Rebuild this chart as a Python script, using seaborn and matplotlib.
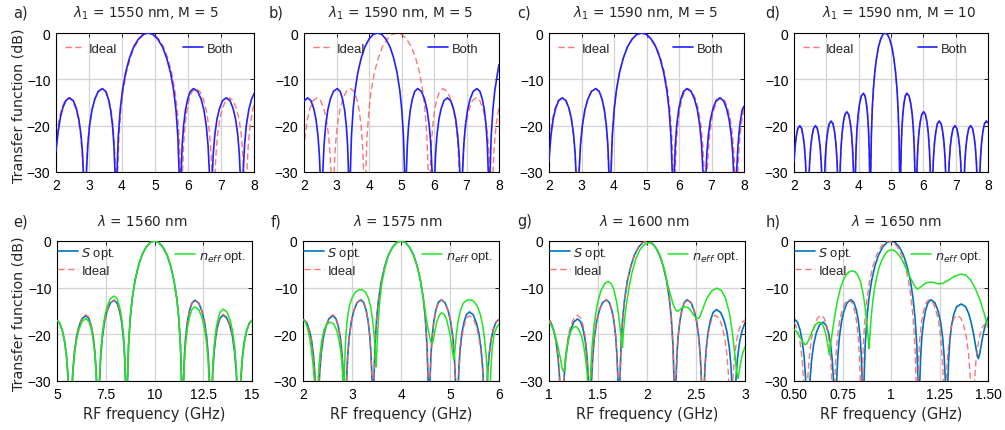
import matplotlib
matplotlib.use("Agg")
import matplotlib.pyplot as plt
import seaborn as sns

# ---------------------------------------------------------------------------
# Transfer functions (dB) versus RF frequency (GHz)
# ---------------------------------------------------------------------------

# a) lambda1 = 1550 nm, M = 5
a_both_x = [2.0, 2.062, 2.128, 2.203, 2.297, 2.41, 2.523, 2.617, 2.692, 2.758, 2.805, 2.842, 2.88,
            2.922, 2.965, 3.017, 3.091, 3.175, 3.280, 3.406, 3.506, 3.589, 3.655, 3.713, 3.754, 3.787, 3.82,
            3.849, 3.888, 3.946, 4.014, 4.111, 4.227, 4.353, 4.499, 4.644, 4.79,
            4.936, 5.081, 5.227, 5.353, 5.469, 5.566, 5.634, 5.692, 5.731, 5.76,
            5.793, 5.825, 5.866, 5.924, 5.989, 6.071, 6.169, 6.294, 6.398, 6.482, 6.554, 6.606, 6.648, 6.69,
            6.728, 6.765, 6.812, 6.878, 6.953, 7.047, 7.16, 7.273, 7.367, 7.442, 7.508, 7.555, 7.592, 7.63,
            7.672, 7.715, 7.767, 7.841, 7.925, 8.0]
a_both_db = [-25.5, -21.5, -18.4, -16.2, -14.6, -14, -14.6, -16.3, -18.6, -22, -26.1, -32, -40,
             -30, -24.1, -20, -16.6, -14.3, -12.6, -12, -12.6, -14.3, -16.6, -20, -24.1, -30, -40,
             -30, -22.3, -16.5, -12.4, -8.5, -5.4, -3.0, -1.3, -0.3, 0,
             -0.3, -1.3, -3.0, -5.4, -8.5, -12.4, -16.5, -22.3, -30, -40,
             -30, -24.1, -20, -16.6, -14.3, -12.6, -12, -12.6, -14.3, -16.6, -20, -24.1, -30, -40,
             -32, -26.1, -22, -18.6, -16.3, -14.6, -14, -14.6, -16.3, -18.6, -22, -26.1, -32, -40,
             -30, -24.1, -20, -16.6, -14.3, -13.1]
a_ideal_x = [2.0, 2.026, 2.094, 2.172, 2.269, 2.385, 2.501, 2.598, 2.676, 2.744, 2.792, 2.831, 2.87,
             2.914, 2.957, 3.012, 3.087, 3.175, 3.283, 3.413, 3.516, 3.601, 3.669, 3.729, 3.772, 3.806, 3.84,
             3.869, 3.909, 3.967, 4.036, 4.134, 4.252, 4.379, 4.526, 4.673, 4.82,
             4.967, 5.114, 5.261, 5.388, 5.506, 5.604, 5.673, 5.731, 5.771, 5.80,
             5.834, 5.868, 5.911, 5.971, 6.039, 6.124, 6.227, 6.357, 6.465, 6.553, 6.628, 6.683, 6.726, 6.77,
             6.809, 6.848, 6.896, 6.964, 7.042, 7.139, 7.255, 7.371, 7.468, 7.546, 7.614, 7.662, 7.701, 7.74,
             7.784, 7.827, 7.882, 7.957, 8.0]
a_ideal_db = [-24.2, -22, -18.6, -16.3, -14.6, -14, -14.6, -16.3, -18.6, -22, -26.1, -32, -40,
              -30, -24.1, -20, -16.6, -14.3, -12.6, -12, -12.6, -14.3, -16.6, -20, -24.1, -30, -40,
              -30, -22.3, -16.5, -12.4, -8.5, -5.4, -3.0, -1.3, -0.3, 0,
              -0.3, -1.3, -3.0, -5.4, -8.5, -12.4, -16.5, -22.3, -30, -40,
              -30, -24.1, -20, -16.6, -14.3, -12.6, -12, -12.6, -14.3, -16.6, -20, -24.1, -30, -40,
              -32, -26.1, -22, -18.6, -16.3, -14.6, -14, -14.6, -16.3, -18.6, -22, -26.1, -32, -40,
              -30, -24.1, -20, -16.6, -15.4]

# ideal response for lambda1 = 1590 nm, M = 5 (panels b and c)
ideal_1590_x = [2.0, 2.036, 2.104, 2.182, 2.279, 2.395, 2.511, 2.608, 2.686, 2.754, 2.802, 2.841, 2.88,
                2.925, 2.969, 3.025, 3.102, 3.191, 3.302, 3.434, 3.539, 3.626, 3.696, 3.757, 3.801, 3.835, 3.87,
                3.90, 3.939, 3.999, 4.068, 4.167, 4.286, 4.414, 4.563, 4.711, 4.86,
                5.009, 5.157, 5.306, 5.434, 5.553, 5.652, 5.721, 5.781, 5.82, 5.85,
                5.884, 5.918, 5.961, 6.021, 6.089, 6.174, 6.277, 6.407, 6.515, 6.603, 6.678, 6.733, 6.776, 6.82,
                6.858, 6.896, 6.944, 7.01, 7.086, 7.181, 7.295, 7.409, 7.504, 7.58, 7.647, 7.694, 7.732, 7.77,
                7.814, 7.857, 7.911, 8.0]
ideal_1590_db = [-25.1, -22, -18.6, -16.3, -14.6, -14, -14.6, -16.3, -18.6, -22, -26.1, -32, -40,
                 -30, -24.1, -20, -16.6, -14.3, -12.6, -12, -12.6, -14.3, -16.6, -20, -24.1, -30, -40,
                 -30, -22.3, -16.5, -12.4, -8.5, -5.4, -3.0, -1.3, -0.3, 0,
                 -0.3, -1.3, -3.0, -5.4, -8.5, -12.4, -16.5, -22.3, -30, -40,
                 -30, -24.1, -20, -16.6, -14.3, -12.6, -12, -12.6, -14.3, -16.6, -20, -24.1, -30, -40,
                 -32, -26.1, -22, -18.6, -16.3, -14.6, -14, -14.6, -16.3, -18.6, -22, -26.1, -32, -40,
                 -30, -24.1, -20, -15.8]

# b) lambda1 = 1590 nm, M = 5, uncorrected
b_both_x = [2.0, 2.11, 2.213, 2.299, 2.368, 2.428, 2.471, 2.506, 2.54,
            2.579, 2.617, 2.666, 2.733, 2.81, 2.906, 3.022, 3.113, 3.188, 3.249, 3.302, 3.34, 3.37, 3.40,
            3.426, 3.46, 3.512, 3.572, 3.658, 3.761, 3.873, 4.002, 4.131, 4.26,
            4.389, 4.518, 4.647, 4.759, 4.862, 4.948, 5.008, 5.06, 5.094, 5.12,
            5.15, 5.18, 5.218, 5.271, 5.332, 5.407, 5.498, 5.614, 5.71, 5.787, 5.854, 5.903, 5.941, 5.98,
            6.014, 6.049, 6.092, 6.152, 6.221, 6.307, 6.41, 6.513, 6.599, 6.668, 6.728, 6.771, 6.806, 6.84,
            6.879, 6.917, 6.966, 7.033, 7.11, 7.206, 7.322, 7.413, 7.488, 7.549, 7.602, 7.64, 7.67, 7.70,
            7.726, 7.76, 7.812, 7.872, 7.958, 8.0]
b_both_db = [-14.7, -14, -14.6, -16.3, -18.6, -22, -26.1, -32, -40,
             -30, -24.1, -20, -16.6, -14.3, -12.6, -12, -12.6, -14.3, -16.6, -20, -24.1, -30, -40,
             -30, -22.3, -16.5, -12.4, -8.5, -5.4, -3.0, -1.3, -0.3, 0,
             -0.3, -1.3, -3.0, -5.4, -8.5, -12.4, -16.5, -22.3, -30, -40,
             -30, -24.1, -20, -16.6, -14.3, -12.6, -12, -12.6, -14.3, -16.6, -20, -24.1, -30, -40,
             -32, -26.1, -22, -18.6, -16.3, -14.6, -14, -14.6, -16.3, -18.6, -22, -26.1, -32, -40,
             -30, -24.1, -20, -16.6, -14.3, -12.6, -12, -12.6, -14.3, -16.6, -20, -24.1, -30, -40,
             -30, -22.3, -16.5, -12.4, -8.5, -6.8]

# c) lambda1 = 1590 nm, M = 5, corrected
c_both_x = [2.0, 2.015, 2.062, 2.128, 2.203, 2.297, 2.41, 2.523, 2.617, 2.692, 2.758, 2.805, 2.842, 2.88,
            2.925, 2.97, 3.026, 3.104, 3.194, 3.306, 3.44, 3.546, 3.634, 3.704, 3.766, 3.81, 3.845, 3.88,
            3.909, 3.948, 4.006, 4.074, 4.171, 4.287, 4.413, 4.559, 4.704, 4.85,
            4.996, 5.141, 5.287, 5.413, 5.529, 5.626, 5.694, 5.752, 5.791, 5.82,
            5.854, 5.887, 5.929, 5.989, 6.056, 6.141, 6.242, 6.371, 6.479, 6.565, 6.64, 6.694, 6.737, 6.78,
            6.818, 6.856, 6.904, 6.97, 7.046, 7.141, 7.255, 7.369, 7.464, 7.54, 7.607, 7.654, 7.692, 7.73,
            7.773, 7.816, 7.869, 7.943, 8.0]
c_both_db = [-27.7, -26.1, -22, -18.6, -16.3, -14.6, -14, -14.6, -16.3, -18.6, -22, -26.1, -32, -40,
             -30, -24.1, -20, -16.6, -14.3, -12.6, -12, -12.6, -14.3, -16.6, -20, -24.1, -30, -40,
             -30, -22.3, -16.5, -12.4, -8.5, -5.4, -3.0, -1.3, -0.3, 0,
             -0.3, -1.3, -3.0, -5.4, -8.5, -12.4, -16.5, -22.3, -30, -40,
             -30, -24.1, -20, -16.6, -14.3, -12.6, -12, -12.6, -14.3, -16.6, -20, -24.1, -30, -40,
             -32, -26.1, -22, -18.6, -16.3, -14.6, -14, -14.6, -16.3, -18.6, -22, -26.1, -32, -40,
             -30, -24.1, -20, -16.6, -15.8]

# d) lambda1 = 1590 nm, M = 10 (ideal and corrected coincide)
d_x = [2.0, 2.032, 2.071, 2.119, 2.178, 2.236, 2.284, 2.323, 2.357, 2.381, 2.401, 2.42,
       2.439, 2.459, 2.483, 2.517, 2.556, 2.604, 2.663, 2.721, 2.769, 2.808, 2.842, 2.866, 2.886, 2.905,
       2.924, 2.944, 2.968, 3.002, 3.041, 3.089, 3.148, 3.206, 3.254, 3.293, 3.327, 3.351, 3.371, 3.39,
       3.409, 3.429, 3.453, 3.487, 3.526, 3.574, 3.633, 3.691, 3.739, 3.778, 3.812, 3.836, 3.856, 3.875,
       3.897, 3.919, 3.946, 3.984, 4.027, 4.082, 4.147, 4.198, 4.241, 4.275, 4.305, 4.326, 4.343, 4.36,
       4.374, 4.392, 4.42, 4.452, 4.498, 4.553, 4.613, 4.682, 4.751, 4.82,
       4.889, 4.958, 5.027, 5.087, 5.142, 5.188, 5.22, 5.248, 5.266, 5.28,
       5.297, 5.314, 5.335, 5.365, 5.399, 5.442, 5.493, 5.558, 5.613, 5.656, 5.694, 5.721, 5.743, 5.765,
       5.784, 5.804, 5.828, 5.862, 5.901, 5.949, 6.008, 6.066, 6.114, 6.153, 6.187, 6.211, 6.231, 6.25,
       6.269, 6.289, 6.313, 6.347, 6.386, 6.434, 6.493, 6.551, 6.599, 6.638, 6.672, 6.696, 6.716, 6.735,
       6.754, 6.774, 6.798, 6.832, 6.871, 6.919, 6.978, 7.036, 7.084, 7.123, 7.157, 7.181, 7.201, 7.22,
       7.239, 7.259, 7.283, 7.317, 7.356, 7.404, 7.463, 7.521, 7.569, 7.608, 7.642, 7.666, 7.686, 7.705,
       7.724, 7.744, 7.768, 7.802, 7.841, 7.889, 7.948, 8.0]
d_db = [-27.8, -24.6, -22.3, -20.6, -20, -20.6, -22.3, -24.6, -28, -32.1, -38, -40,
        -38, -32.1, -28, -24.6, -22.3, -20.6, -20, -20.6, -22.3, -24.6, -28, -32.1, -38, -40,
        -37, -31.1, -27, -23.6, -21.3, -19.6, -19, -19.6, -21.3, -23.6, -27, -31.1, -37, -40,
        -35, -29.1, -25, -21.6, -19.3, -17.6, -17, -17.6, -19.3, -21.6, -25, -29.1, -35, -40,
        -31, -25.1, -21, -17.6, -15.3, -13.6, -13, -13.6, -15.3, -17.6, -21, -25.1, -31, -40,
        -30, -22.3, -16.5, -12.4, -8.5, -5.4, -3.0, -1.3, -0.3, 0,
        -0.3, -1.3, -3.0, -5.4, -8.5, -12.4, -16.5, -22.3, -30, -40,
        -31, -25.1, -21, -17.6, -15.3, -13.6, -13, -13.6, -15.3, -17.6, -21, -25.1, -31, -40,
        -35, -29.1, -25, -21.6, -19.3, -17.6, -17, -17.6, -19.3, -21.6, -25, -29.1, -35, -40,
        -37, -31.1, -27, -23.6, -21.3, -19.6, -19, -19.6, -21.3, -23.6, -27, -31.1, -37, -40,
        -38, -32.1, -28, -24.6, -22.3, -20.6, -20, -20.6, -22.3, -24.6, -28, -32.1, -38, -40,
        -38, -32.1, -28, -24.6, -22.3, -20.6, -20, -20.6, -22.3, -24.6, -28, -32.1, -38, -40,
        -37, -31.1, -27, -23.6, -21.3, -19.6, -19, -19.4]

# e) lambda = 1560 nm
e_x = [5.0, 5.137, 5.28, 5.394, 5.494, 5.566, 5.623, 5.68,
       5.744, 5.809, 5.889, 6.0, 6.129, 6.289, 6.481, 6.632, 6.758, 6.858, 6.947, 7.01, 7.06, 7.11,
       7.176, 7.241, 7.323, 7.437, 7.568, 7.732, 7.928, 8.082, 8.211, 8.313, 8.404, 8.468, 8.519, 8.57,
       8.613, 8.67, 8.756, 8.856, 8.999, 9.171, 9.356, 9.571, 9.785, 10.0,
       10.215, 10.429, 10.644, 10.829, 11.001, 11.144, 11.244, 11.33, 11.387, 11.43,
       11.481, 11.532, 11.596, 11.687, 11.789, 11.918, 12.072, 12.268, 12.432, 12.563, 12.677, 12.759, 12.824, 12.89,
       12.94, 12.99, 13.053, 13.142, 13.242, 13.368, 13.519, 13.711, 13.871, 14.0, 14.111, 14.191, 14.256, 14.32,
       14.377, 14.434, 14.506, 14.606, 14.72, 14.863, 15.0]
e_sopt_db = [-17, -17.6, -19.3, -21.6, -25, -29.1, -35, -40,
             -34, -28.1, -24, -20.6, -18.3, -16.6, -16, -16.6, -18.3, -20.6, -24, -28.1, -34, -40,
             -30.7, -24.8, -20.7, -17.3, -15, -13.3, -12.7, -13.3, -15, -17.3, -20.7, -24.8, -30.7, -40,
             -30, -22.3, -16.5, -12.4, -8.5, -5.4, -3.0, -1.3, -0.3, 0,
             -0.3, -1.3, -3.0, -5.4, -8.5, -12.4, -16.5, -22.3, -30, -40,
             -30.7, -24.8, -20.7, -17.3, -15, -13.3, -12.7, -13.3, -15, -17.3, -20.7, -24.8, -30.7, -40,
             -33.9, -28, -23.9, -20.5, -18.2, -16.5, -15.9, -16.5, -18.2, -20.5, -23.9, -28, -33.9, -40,
             -35, -29.1, -25, -21.6, -19.3, -17.6, -17]
e_ideal_db = [-17, -17.6, -19.3, -21.6, -25, -29.1, -35, -40,
              -33.8, -27.9, -23.8, -20.4, -18.1, -16.4, -15.8, -16.4, -18.1, -20.4, -23.8, -27.9, -33.8, -40,
              -30.7, -24.8, -20.7, -17.3, -15, -13.3, -12.7, -13.3, -15, -17.3, -20.7, -24.8, -30.7, -40,
              -30, -22.3, -16.5, -12.4, -8.5, -5.4, -3.0, -1.3, -0.3, 0,
              -0.3, -1.3, -3.0, -5.4, -8.5, -12.4, -16.5, -22.3, -30, -40,
              -30.7, -24.8, -20.7, -17.3, -15, -13.3, -12.7, -13.3, -15, -17.3, -20.7, -24.8, -30.7, -40,
              -33.7, -27.8, -23.7, -20.3, -18.0, -16.3, -15.7, -16.3, -18.0, -20.3, -23.7, -27.8, -33.7, -40,
              -35, -29.1, -25, -21.6, -19.3, -17.6, -17]
e_neff_db = [-17, -17.6, -19.3, -21.6, -25, -29.1, -35, -40,
             -34.6, -28.7, -24.6, -21.2, -18.9, -17.2, -16.6, -17.2, -18.9, -21.2, -24.6, -28.7, -34.6, -40,
             -29.8, -23.9, -19.8, -16.4, -14.1, -12.4, -11.8, -12.4, -14.1, -16.4, -19.8, -23.9, -29.8, -40,
             -30, -22.3, -16.5, -12.4, -8.5, -5.4, -3.0, -1.3, -0.3, 0,
             -0.3, -1.3, -3.0, -5.4, -8.5, -12.4, -16.5, -22.3, -30, -40,
             -32.1, -26.2, -22.1, -18.7, -16.4, -14.7, -14.1, -14.7, -16.4, -18.7, -22.1, -26.2, -32.1, -40,
             -32.6, -26.7, -22.6, -19.2, -16.9, -15.2, -14.6, -15.2, -16.9, -19.2, -22.6, -26.7, -32.6, -40,
             -35, -29.1, -25, -21.6, -19.3, -17.6, -17]

# f) lambda = 1575 nm
f_x = [2.0, 2.073, 2.13, 2.176, 2.216, 2.244, 2.267, 2.29,
       2.316, 2.341, 2.373, 2.418, 2.469, 2.533, 2.609, 2.67, 2.72, 2.76, 2.795, 2.82, 2.84, 2.86,
       2.886, 2.911, 2.943, 2.988, 3.039, 3.103, 3.179, 3.24, 3.29, 3.33, 3.365, 3.39, 3.41, 3.43,
       3.447, 3.47, 3.504, 3.544, 3.601, 3.669, 3.743, 3.829, 3.914, 4.0,
       4.086, 4.171, 4.257, 4.331, 4.399, 4.456, 4.496, 4.53, 4.553, 4.57,
       4.59, 4.61, 4.635, 4.67, 4.71, 4.76, 4.821, 4.897, 4.961, 5.012, 5.057, 5.089, 5.114, 5.14,
       5.16, 5.181, 5.206, 5.242, 5.283, 5.334, 5.395, 5.473, 5.538, 5.59, 5.635, 5.668, 5.694, 5.72,
       5.743, 5.766, 5.794, 5.834, 5.88, 5.937, 6.0]
f_sopt_db = [-16.8, -17.4, -19.1, -21.4, -24.8, -28.9, -34.8, -40,
             -34, -28.1, -24, -20.6, -18.3, -16.6, -16, -16.6, -18.3, -20.6, -24, -28.1, -34, -40,
             -30.6, -24.7, -20.6, -17.2, -14.9, -13.2, -12.6, -13.2, -14.9, -17.2, -20.6, -24.7, -30.6, -40,
             -30, -22.3, -16.5, -12.4, -8.5, -5.4, -3.0, -1.3, -0.3, 0,
             -0.3, -1.3, -3.0, -5.4, -8.5, -12.4, -16.5, -22.3, -30, -40,
             -30.6, -24.7, -20.6, -17.2, -14.9, -13.2, -12.6, -13.2, -14.9, -17.2, -20.6, -24.7, -30.6, -40,
             -33.2, -27.3, -23.2, -19.8, -17.5, -15.8, -15.2, -15.8, -17.5, -19.8, -23.2, -27.3, -33.2, -40,
             -34.8, -28.9, -24.8, -21.4, -19.1, -17.4, -16.8]
f_ideal_db = [-16.8, -17.4, -19.1, -21.4, -24.8, -28.9, -34.8, -40,
              -33.8, -27.9, -23.8, -20.4, -18.1, -16.4, -15.8, -16.4, -18.1, -20.4, -23.8, -27.9, -33.8, -40,
              -30.6, -24.7, -20.6, -17.2, -14.9, -13.2, -12.6, -13.2, -14.9, -17.2, -20.6, -24.7, -30.6, -40,
              -30, -22.3, -16.5, -12.4, -8.5, -5.4, -3.0, -1.3, -0.3, 0,
              -0.3, -1.3, -3.0, -5.4, -8.5, -12.4, -16.5, -22.3, -30, -40,
              -30.6, -24.7, -20.6, -17.2, -14.9, -13.2, -12.6, -13.2, -14.9, -17.2, -20.6, -24.7, -30.6, -40,
              -34, -28.1, -24, -20.6, -18.3, -16.6, -16, -16.6, -18.3, -20.6, -24, -28.1, -34, -40,
              -34.8, -28.9, -24.8, -21.4, -19.1, -17.4, -16.8]
f_neff_x = [2.0, 2.05, 2.09, 2.13, 2.17, 2.2, 2.225, 2.25, 2.27,
            2.29, 2.31, 2.34, 2.38, 2.43, 2.49, 2.56, 2.63, 2.69, 2.74, 2.775, 2.80, 2.815, 2.83,
            2.845, 2.86, 2.88, 2.91, 2.95, 3.0, 3.06, 3.13, 3.2, 3.27, 3.33, 3.38, 3.42, 3.455, 3.475, 3.49,
            3.505, 3.52, 3.54, 3.57, 3.61, 3.67, 3.74, 3.82, 3.91, 4.0,
            4.09, 4.18, 4.26, 4.33, 4.39, 4.44, 4.49, 4.54, 4.58, 4.61, 4.64,
            4.67, 4.70, 4.74, 4.79, 4.83, 4.88, 4.93, 4.98, 5.02, 5.055, 5.08,
            5.10, 5.13, 5.17, 5.22, 5.28, 5.36, 5.46, 5.55, 5.62, 5.67, 5.71, 5.74, 5.765, 5.785, 5.80,
            5.815, 5.835, 5.86, 5.90, 5.95, 6.0]
f_neff_db = [-16.8, -17.4, -18.6, -20.5, -23.2, -26, -29, -33, -40,
             -34, -29.5, -25, -21.5, -19, -17.8, -17.4, -17.8, -19.2, -21.5, -24, -27, -30, -40,
             -28, -23.5, -19.5, -16.2, -13.8, -12.2, -11.1, -10.5, -10.4, -10.9, -12.1, -14, -16.8, -20.5, -24, -27,
             -24, -20.5, -16.5, -12.5, -9, -5.8, -3.2, -1.4, -0.3, 0,
             -0.3, -1.4, -3.2, -5.5, -8.2, -11.2, -14.8, -18.2, -20.4, -21.6, -22,
             -20.6, -18.8, -17, -15.8, -15.4, -15.7, -16.8, -19, -21.5, -24, -25.5,
             -23.5, -20, -16.9, -14.6, -13.2, -12.6, -12.7, -13.8, -15.8, -18.3, -21.5, -25, -29, -34, -40,
             -33, -27, -23, -20, -18.6, -17.8]

# g) lambda = 1600 nm
g_sopt_x = [1.0, 1.02, 1.049, 1.072, 1.092, 1.107, 1.118, 1.13,
            1.143, 1.156, 1.172, 1.195, 1.221, 1.254, 1.292, 1.323, 1.349, 1.369, 1.387, 1.40, 1.41, 1.42,
            1.433, 1.447, 1.463, 1.486, 1.513, 1.546, 1.585, 1.616, 1.642, 1.663, 1.681, 1.694, 1.705, 1.715,
            1.724, 1.735, 1.752, 1.772, 1.80, 1.835, 1.872, 1.914, 1.957, 2.0,
            2.043, 2.086, 2.128, 2.165, 2.20, 2.228, 2.248, 2.265, 2.276, 2.285,
            2.295, 2.305, 2.317, 2.335, 2.355, 2.38, 2.41, 2.449, 2.481, 2.506, 2.528, 2.544, 2.557, 2.57,
            2.581, 2.592, 2.606, 2.625, 2.647, 2.675, 2.709, 2.751, 2.786, 2.814, 2.839, 2.857, 2.871, 2.885,
            2.897, 2.909, 2.924, 2.945, 2.969, 3.0]
g_sopt_db = [-16.9, -17.5, -19.2, -21.5, -24.9, -29, -34.9, -40,
             -34.7, -28.8, -24.7, -21.3, -19, -17.3, -16.7, -17.3, -19, -21.3, -24.7, -28.8, -34.7, -40,
             -30.6, -24.7, -20.6, -17.2, -14.9, -13.2, -12.6, -13.2, -14.9, -17.2, -20.6, -24.7, -30.6, -40,
             -30, -22.3, -16.5, -12.4, -8.5, -5.4, -3.0, -1.3, -0.3, 0,
             -0.3, -1.3, -3.0, -5.4, -8.5, -12.4, -16.5, -22.3, -30, -40,
             -30.6, -24.7, -20.6, -17.2, -14.9, -13.2, -12.6, -13.2, -14.9, -17.2, -20.6, -24.7, -30.6, -40,
             -32.7, -26.8, -22.7, -19.3, -17, -15.3, -14.7, -15.3, -17, -19.3, -22.7, -26.8, -32.7, -40,
             -35, -29.1, -25, -21.6, -19.3, -17.5]
g_ideal_x = [1.0, 1.02, 1.049, 1.072, 1.092, 1.107, 1.118, 1.13,
             1.143, 1.156, 1.172, 1.195, 1.221, 1.254, 1.292, 1.323, 1.349, 1.369, 1.387, 1.40, 1.41, 1.42,
             1.433, 1.447, 1.463, 1.486, 1.513, 1.546, 1.585, 1.616, 1.642, 1.663, 1.681, 1.694, 1.705, 1.715,
             1.724, 1.735, 1.752, 1.772, 1.80, 1.835, 1.872, 1.914, 1.957, 2.0,
             2.043, 2.086, 2.128, 2.165, 2.20, 2.228, 2.248, 2.265, 2.276, 2.285,
             2.295, 2.305, 2.317, 2.335, 2.355, 2.38, 2.41, 2.449, 2.481, 2.506, 2.528, 2.544, 2.557, 2.57,
             2.58, 2.59, 2.602, 2.62, 2.64, 2.665, 2.695, 2.734, 2.766, 2.791, 2.813, 2.829, 2.842, 2.855,
             2.867, 2.878, 2.893, 2.913, 2.936, 2.965, 3.0]
g_ideal_db = [-16.9, -17.5, -19.2, -21.5, -24.9, -29, -34.9, -40,
              -33.9, -28, -23.9, -20.5, -18.2, -16.5, -15.9, -16.5, -18.2, -20.5, -23.9, -28, -33.9, -40,
              -30.6, -24.7, -20.6, -17.2, -14.9, -13.2, -12.6, -13.2, -14.9, -17.2, -20.6, -24.7, -30.6, -40,
              -30, -22.3, -16.5, -12.4, -8.5, -5.4, -3.0, -1.3, -0.3, 0,
              -0.3, -1.3, -3.0, -5.4, -8.5, -12.4, -16.5, -22.3, -30, -40,
              -30.6, -24.7, -20.6, -17.2, -14.9, -13.2, -12.6, -13.2, -14.9, -17.2, -20.6, -24.7, -30.6, -40,
              -33.9, -28, -23.9, -20.5, -18.2, -16.5, -15.9, -16.5, -18.2, -20.5, -23.9, -28, -33.9, -40,
              -34.9, -29, -24.9, -21.5, -19.2, -17.5, -16.9]
g_neff_x = [1.0, 1.03, 1.06, 1.09, 1.115, 1.135, 1.15, 1.16, 1.17, 1.185, 1.205, 1.23, 1.255, 1.28,
            1.305, 1.33, 1.35, 1.37, 1.385, 1.40, 1.412,
            1.418, 1.425, 1.44, 1.46, 1.49, 1.53, 1.57, 1.60, 1.63, 1.66, 1.69, 1.71, 1.725, 1.74, 1.75,
            1.76, 1.775, 1.795, 1.82, 1.85, 1.89, 1.93, 1.97, 2.01, 2.03,
            2.06, 2.10, 2.14, 2.18, 2.21, 2.24, 2.27, 2.295, 2.31,
            2.33, 2.36, 2.39, 2.42, 2.45, 2.48, 2.51, 2.525, 2.54, 2.57, 2.61, 2.66, 2.71,
            2.76, 2.80, 2.84, 2.87, 2.895, 2.915, 2.93,
            2.945, 2.96, 2.98, 3.0]
g_neff_db = [-17.3, -18.3, -20, -22.5, -25, -27.3, -28, -27, -25.2, -22.8, -20.6, -19, -18.4, -18.4,
             -19, -20.3, -22, -24.8, -27.5, -32, -40,
             -33, -28, -22.5, -18, -13.8, -10.6, -9.1, -8.7, -9.0, -10.3, -13, -15.8, -18.5, -21.5, -22.8,
             -19.5, -16, -12.8, -9.6, -6.5, -3.6, -1.8, -0.8, -0.4, -0.4,
             -0.7, -1.7, -3.5, -6.3, -9.3, -11.6, -13.8, -14.8, -15.1,
             -14.8, -14.3, -14.1, -14.3, -15, -16, -16.6, -16.6, -16.2, -14.5, -12.3, -10.7, -10.1,
             -10.6, -12.2, -15.3, -19.5, -24, -28, -29.5,
             -27.5, -25.5, -23.8, -22.7]

# h) lambda = 1650 nm
h_sopt_x = [0.5, 0.517, 0.531, 0.542, 0.552, 0.559, 0.564, 0.57,
            0.576, 0.583, 0.591, 0.602, 0.615, 0.631, 0.65, 0.665, 0.678, 0.688, 0.697, 0.703, 0.708, 0.713,
            0.719, 0.726, 0.734, 0.745, 0.758, 0.774, 0.794, 0.809, 0.822, 0.832, 0.841, 0.847, 0.852, 0.857,
            0.861, 0.867, 0.876, 0.886, 0.90, 0.917, 0.936, 0.957, 0.979, 1.0,
            1.021, 1.043, 1.064, 1.083, 1.10, 1.114, 1.124, 1.133, 1.139, 1.143,
            1.148, 1.153, 1.159, 1.168, 1.178, 1.191, 1.206, 1.226, 1.242, 1.255, 1.266, 1.274, 1.281, 1.287,
            1.292, 1.297, 1.303, 1.312, 1.323, 1.338, 1.362, 1.385, 1.40, 1.413, 1.425, 1.435, 1.443, 1.45,
            1.458, 1.467, 1.477, 1.488, 1.5]
h_sopt_db = [-16.7, -17.3, -19, -21.3, -24.7, -28.8, -34.7, -40,
             -35.4, -29.5, -25.4, -22, -19.7, -18, -17.4, -18, -19.7, -22, -25.4, -29.5, -35.4, -40,
             -30.6, -24.7, -20.6, -17.2, -14.9, -13.2, -12.6, -13.2, -14.9, -17.2, -20.6, -24.7, -30.6, -40,
             -30, -22.3, -16.5, -12.4, -8.5, -5.4, -3.0, -1.3, -0.3, 0,
             -0.3, -1.3, -3.0, -5.4, -8.5, -12.4, -16.5, -22.3, -30, -40,
             -30.6, -24.7, -20.6, -17.2, -14.9, -13.2, -12.6, -13.2, -14.9, -17.2, -20.6, -24.7, -30.6, -40,
             -31.5, -25.6, -21.5, -18.1, -15.8, -14.1, -13.5, -14.1, -15.5, -17.4, -19.8, -22.2, -24.2, -25.2,
             -24, -21.8, -19.6, -17.8, -16.4]
h_ideal_x = [0.5, 0.507, 0.521, 0.532, 0.542, 0.549, 0.554, 0.56,
             0.566, 0.573, 0.581, 0.592, 0.605, 0.621, 0.64, 0.655, 0.668, 0.678, 0.687, 0.693, 0.698, 0.703,
             0.709, 0.716, 0.724, 0.735, 0.748, 0.764, 0.784, 0.799, 0.812, 0.822, 0.831, 0.837, 0.842, 0.847,
             0.851, 0.857, 0.866, 0.876, 0.89, 0.907, 0.926, 0.947, 0.969, 0.99,
             1.011, 1.033, 1.054, 1.073, 1.09, 1.104, 1.114, 1.123, 1.129, 1.133,
             1.138, 1.143, 1.149, 1.158, 1.168, 1.181, 1.196, 1.216, 1.232, 1.245, 1.256, 1.264, 1.271, 1.277,
             1.282, 1.287, 1.293, 1.302, 1.312, 1.325, 1.34, 1.359, 1.375, 1.388, 1.399, 1.407, 1.414, 1.42,
             1.426, 1.431, 1.438, 1.448, 1.459, 1.473, 1.49, 1.5]
h_ideal_db = [-17.5, -17.9, -19.6, -21.9, -25.3, -29.4, -35.3, -40,
              -33.9, -28, -23.9, -20.5, -18.2, -16.5, -15.9, -16.5, -18.2, -20.5, -23.9, -28, -33.9, -40,
              -30.6, -24.7, -20.6, -17.2, -14.9, -13.2, -12.6, -13.2, -14.9, -17.2, -20.6, -24.7, -30.6, -40,
              -30, -22.3, -16.5, -12.4, -8.5, -5.4, -3.0, -1.3, -0.3, 0,
              -0.3, -1.3, -3.0, -5.4, -8.5, -12.4, -16.5, -22.3, -30, -40,
              -30.6, -24.7, -20.6, -17.2, -14.9, -13.2, -12.6, -13.2, -14.9, -17.2, -20.6, -24.7, -30.6, -40,
              -33.9, -28, -23.9, -20.5, -18.2, -16.5, -15.9, -16.5, -18.2, -20.5, -23.9, -28, -33.9, -40,
              -35.7, -29.8, -25.7, -22.3, -20, -18.3, -17.7, -17.8]
h_neff_x = [0.5, 0.515, 0.53, 0.545, 0.557, 0.567, 0.58, 0.595, 0.61, 0.625, 0.64, 0.652, 0.663, 0.673, 0.682,
            0.69, 0.70, 0.712, 0.725, 0.74, 0.755, 0.77, 0.785, 0.80, 0.815, 0.83, 0.843, 0.855, 0.866, 0.876,
            0.883, 0.887,
            0.891, 0.897, 0.905, 0.915, 0.927, 0.94, 0.955, 0.97, 0.985, 1.0,
            1.015, 1.03, 1.045, 1.06, 1.075, 1.09, 1.105, 1.12, 1.13, 1.137,
            1.145, 1.16, 1.18, 1.2, 1.22, 1.245, 1.27, 1.30, 1.33, 1.36, 1.385, 1.41, 1.435, 1.46, 1.48, 1.5]
h_neff_db = [-18.9, -19.5, -20.6, -21.6, -22.2, -22.0, -20.8, -19.2, -18.0, -17.4, -17.5, -18.3, -19.8, -22.0, -24.4,
             -21.7, -18.8, -15.6, -12.6, -10.0, -8.3, -7.2, -6.6, -6.4, -6.6, -7.4, -8.8, -11.0, -14.0, -17.8,
             -21.0, -23.1,
             -20.5, -16.8, -13.3, -10.2, -7.6, -5.5, -3.9, -2.8, -2.1, -1.9,
             -2.0, -2.5, -3.3, -4.3, -5.6, -7.0, -8.3, -9.5, -10.1, -10.3,
             -10.1, -9.6, -9.0, -8.8, -8.9, -9.2, -9.0, -8.3, -7.5, -7.1, -7.3, -8.3, -10.2, -12.8, -15.5, -18.5]

# axis ticks
top_xticks = [2, 3, 4, 5, 6, 7, 8]
e_xticks = [5, 7.5, 10, 12.5, 15]
e_xlabels = ["5", "7.5", "10", "12.5", "15"]
f_xticks = [2, 3, 4, 5, 6]
g_xticks = [1, 1.5, 2, 2.5, 3]
g_xlabels = ["1", "1.5", "2", "2.5", "3"]
h_xticks = [0.5, 0.75, 1.0, 1.25, 1.5]
h_xlabels = ["0.50", "0.75", "1", "1.25", "1.50"]
yticks = [-30, -20, -10, 0]

top_titles = [r"$\lambda_1$ = 1550 nm, M = 5", r"$\lambda_1$ = 1590 nm, M = 5",
              r"$\lambda_1$ = 1590 nm, M = 5", r"$\lambda_1$ = 1590 nm, M = 10"]
bottom_titles = [r"$\lambda$ = 1560 nm", r"$\lambda$ = 1575 nm",
                 r"$\lambda$ = 1600 nm", r"$\lambda$ = 1650 nm"]
letters = ["a)", "b)", "c)", "d)", "e)", "f)", "g)", "h)"]

# ---------------------------------------------------------------------------
sns.set_style("white")
plt.rcParams["font.family"] = ["Liberation Sans", "DejaVu Sans"]
plt.rcParams["mathtext.fontset"] = "dejavusans"

IDEAL = "#ff5c5c"
BOTH = "#2020ff"
SOPT = "#0072bd"
NEFF = "#1ee61e"
DASH = (0, (4.5, 2.5))
LABEL_FONT = "DejaVu Sans"

W, H = 1005, 431
fig = plt.figure(figsize=(W / 100, H / 100), dpi=100)


def make_axes(left, right, top, bottom):
    return fig.add_axes([left / W, (H - bottom) / H, (right - left) / W, (bottom - top) / H])


top_boxes = [(56, 254), (304, 499), (549, 744), (794, 988)]
bot_boxes = [(57, 252), (303, 499), (549, 745), (794, 988)]
axes_top = [make_axes(l, r, 34, 173) for l, r in top_boxes]
axes_bot = [make_axes(l, r, 242, 382) for l, r in bot_boxes]


def curve(ax, x, y, color, lw, ls="-", alpha=1.0, z=2):
    sns.lineplot(x=x, y=y, ax=ax, color=color, linewidth=lw, linestyle=ls,
                 alpha=alpha, sort=False, estimator=None, errorbar=None,
                 legend=False, zorder=z)
    return ax.lines[-1]


def style(ax, xlim, xticks, xlabels=None):
    ax.set_xlim(*xlim)
    ax.set_ylim(-30, 0)
    ax.set_xticks(xticks)
    if xlabels is not None:
        ax.set_xticklabels(xlabels)
    ax.set_yticks(yticks)
    ax.set_xlabel("")
    ax.set_ylabel("")
    ax.grid(True, color="#d2d2d2", linewidth=0.9)
    ax.set_axisbelow(True)
    ax.tick_params(direction="in", length=3, width=0.6, top=True, right=True,
                   labelsize=10, pad=4, colors="black")
    for sp in ax.spines.values():
        sp.set_color("black")
        sp.set_linewidth(0.8)


leg_kw = dict(frameon=False, fontsize=9.4, handlelength=1.5, handletextpad=0.3,
              borderpad=0, borderaxespad=0, labelspacing=0.3)

# top row: ideal vs. corrected ("Both")
top_data = [
    (a_ideal_x, a_ideal_db, a_both_x, a_both_db),
    (ideal_1590_x, ideal_1590_db, b_both_x, b_both_db),
    (ideal_1590_x, ideal_1590_db, c_both_x, c_both_db),
    (d_x, d_db, d_x, d_db),
]
for ax, (xi, yi, xb, yb) in zip(axes_top, top_data):
    h_ideal = curve(ax, xi, yi, IDEAL, 1.0, DASH, alpha=0.85, z=2)
    h_both = curve(ax, xb, yb, BOTH, 1.2, z=3)
    style(ax, (2, 8), top_xticks)
    l1 = ax.legend([h_ideal], ["Ideal"], loc="center left",
                   bbox_to_anchor=(0.045, 0.885), **leg_kw)
    ax.add_artist(l1)
    ax.legend([h_both], ["Both"], loc="center right",
              bbox_to_anchor=(0.895, 0.885), **leg_kw)

# bottom row: S-optimised, ideal and n_eff-optimised
bot_data = [
    (e_x, e_sopt_db, e_x, e_ideal_db, e_x, e_neff_db, (5, 15), e_xticks, e_xlabels),
    (f_x, f_sopt_db, f_x, f_ideal_db, f_neff_x, f_neff_db, (2, 6), f_xticks, None),
    (g_sopt_x, g_sopt_db, g_ideal_x, g_ideal_db, g_neff_x, g_neff_db, (1, 3), g_xticks, g_xlabels),
    (h_sopt_x, h_sopt_db, h_ideal_x, h_ideal_db, h_neff_x, h_neff_db, (0.5, 1.5), h_xticks, h_xlabels),
]
for ax, (xs, ys, xi, yi, xn, yn, xlim, xt, xl) in zip(axes_bot, bot_data):
    h_s = curve(ax, xs, ys, SOPT, 1.2, z=2)
    h_i = curve(ax, xi, yi, IDEAL, 1.0, DASH, alpha=0.85, z=3)
    h_n = curve(ax, xn, yn, NEFF, 1.1, z=4)
    style(ax, xlim, xt, xl)
    l1 = ax.legend([h_s, h_i], [r"$S$ opt.", "Ideal"], loc="center left",
                   bbox_to_anchor=(0.005, 0.86), **leg_kw)
    ax.add_artist(l1)
    ax.legend([h_n], [r"$n_{eff}$ opt."], loc="center right",
              bbox_to_anchor=(0.965, 0.893), **leg_kw)

# panel titles and letters
top_title_x = [146, 401, 646, 899]
bot_title_x = [142, 398, 644, 896]
top_letter_x = [13, 269, 517, 765]
bot_letter_x = [13, 271, 517, 766]
for i in range(4):
    fig.text(top_title_x[i] / W, 1 - 17.5 / H, top_titles[i], ha="center",
             va="baseline", fontsize=9.8, family=LABEL_FONT)
    fig.text(bot_title_x[i] / W, 1 - 226.5 / H, bottom_titles[i], ha="center",
             va="baseline", fontsize=9.8, family=LABEL_FONT)
    fig.text(top_letter_x[i] / W, 1 - 17.5 / H, letters[i], ha="left",
             va="baseline", fontsize=10.5, family=LABEL_FONT)
    fig.text(bot_letter_x[i] / W, 1 - 226.5 / H, letters[i + 4], ha="left",
             va="baseline", fontsize=10.5, family=LABEL_FONT)

# axis labels
for yc in (106, 314):
    fig.text(18 / W, 1 - yc / H, "Transfer function (dB)", rotation=90,
             ha="center", va="center", fontsize=10.3, family=LABEL_FONT)
for l, r in bot_boxes:
    fig.text((l + r) / 2 / W, 1 - 419.5 / H, "RF frequency (GHz)", ha="center",
             va="baseline", fontsize=10.5, family=LABEL_FONT)

fig.savefig("out.png", dpi=100)
